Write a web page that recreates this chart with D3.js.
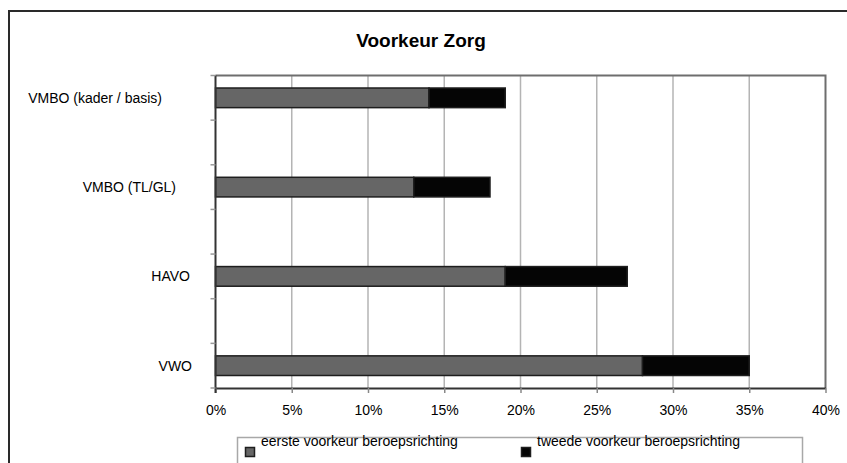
<!DOCTYPE html>
<html>
<head>
<meta charset="utf-8">
<script src="https://cdn.jsdelivr.net/npm/d3@7"></script>
<style>
  body { margin: 0; background: #fff; }
  svg { display: block; font-family: Arial, "Liberation Sans", sans-serif; }
</style>
</head>
<body>
<svg id="chart" width="847" height="463"></svg>
<script>
const width = 847, height = 463;

// data
const categories = ['VMBO (kader / basis)', 'VMBO (TL/GL)', 'HAVO', 'VWO'];
const eerste = [14, 13, 19, 28];
const tweede = [5, 5, 8, 7];
const seriesNames = ['eerste voorkeur beroepsrichting', 'tweede voorkeur beroepsrichting'];
const xTicks = [0, 5, 10, 15, 20, 25, 30, 35, 40];

const colors = ['#666666', '#050505'];
const labelShift = [-30, -16, -2, 0]; // excel puts the labels a bit oddly

const margin = {left: 215.5, right: 825.5, top: 75.5, bottom: 388};

const svg = d3.select('#chart');

// outer chart frame (runs off the picture on the right/bottom)
svg.append('rect')
    .attr('x', 9).attr('y', 11)
    .attr('width', 900).attr('height', 500)
    .attr('fill', 'none')
    .attr('stroke', '#2a2a2a')
    .attr('stroke-width', 2);

svg.append('text')
    .attr('x', 421).attr('y', 47)
    .attr('text-anchor', 'middle')
    .attr('font-size', 19)
    .attr('font-weight', 'bold')
    .text('Voorkeur Zorg');

// empty slots between the categories, like in the sheet
const slots = categories.flatMap((c, i) => i < categories.length - 1 ? [c, '_gap' + i] : [c]);

const x = d3.scaleLinear().domain([0, 40]).range([margin.left, margin.right]);
const y = d3.scaleBand().domain(slots).range([margin.top, margin.bottom]).paddingInner(0).paddingOuter(0);

// gridlines
svg.append('g')
    .selectAll('line')
    .data(xTicks.slice(1, -1))
    .join('line')
    .attr('x1', d => x(d)).attr('x2', d => x(d))
    .attr('y1', margin.top).attr('y2', margin.bottom)
    .attr('stroke', '#b4b4b4')
    .attr('stroke-width', 1.5);

// plot border top / right
svg.append('path')
    .attr('d', `M${margin.left},${margin.top}H${margin.right}V${margin.bottom}`)
    .attr('fill', 'none')
    .attr('stroke', '#6e6e6e')
    .attr('stroke-width', 2);

// bars
const barH = y.bandwidth() * 0.44;
const rows = categories.map((c, i) => ({cat: c, vals: [eerste[i], tweede[i]]}));

const stacked = [];
rows.forEach(r => {
    let acc = 0;
    r.vals.forEach((v, k) => {
        stacked.push({cat: r.cat, k, x0: acc, x1: acc + v});
        acc += v;
    });
});

svg.append('g')
    .selectAll('rect')
    .data(stacked)
    .join('rect')
    .attr('x', d => x(d.x0))
    .attr('width', d => x(d.x1) - x(d.x0))
    .attr('y', d => y(d.cat) + (y.bandwidth() - barH) / 2)
    .attr('height', barH)
    .attr('fill', d => colors[d.k])
    .attr('stroke', '#1e1e1e')
    .attr('stroke-width', 1.5);

// x axis
const xAxis = svg.append('g')
    .attr('transform', `translate(0,${margin.bottom})`)
    .call(d3.axisBottom(x).tickValues(xTicks).tickFormat(d => d + '%').tickSize(5).tickSizeOuter(0));
xAxis.select('.domain').attr('stroke', '#333').attr('stroke-width', 2);
xAxis.selectAll('.tick line').attr('stroke', '#888').attr('stroke-width', 1.5);
xAxis.selectAll('.tick text')
    .attr('font-size', 14)
    .attr('font-family', 'Arial, "Liberation Sans", sans-serif')
    .attr('fill', '#000')
    .attr('dy', null)
    .attr('y', 27);

// y axis: line + ticks at slot boundaries
const bounds = slots.map(s => y(s)).concat([margin.bottom]);
svg.append('line')
    .attr('x1', margin.left).attr('x2', margin.left)
    .attr('y1', margin.top).attr('y2', margin.bottom + 5)
    .attr('stroke', '#333').attr('stroke-width', 2);
svg.append('g')
    .selectAll('line')
    .data(bounds)
    .join('line')
    .attr('x1', margin.left - 5).attr('x2', margin.left)
    .attr('y1', d => d).attr('y2', d => d)
    .attr('stroke', '#999').attr('stroke-width', 1.5);

svg.append('g')
    .selectAll('text')
    .data(categories)
    .join('text')
    .attr('x', (d, i) => 192 + labelShift[i])
    .attr('y', d => y(d) + y.bandwidth() / 2)
    .attr('dy', '0.36em')
    .attr('text-anchor', 'end')
    .attr('font-size', 14)
    .text(d => d);

// legend
svg.append('rect')
    .attr('x', 237.5).attr('y', 437.5)
    .attr('width', 565).attr('height', 60)
    .attr('fill', 'none')
    .attr('stroke', '#a8a8a8')
    .attr('stroke-width', 1.5);

const leg = svg.append('g')
    .selectAll('g')
    .data(seriesNames)
    .join('g')
    .attr('transform', (d, i) => `translate(${i === 0 ? 245 : 521},0)`);

leg.append('rect')
    .attr('x', 0.5).attr('y', 447.5)
    .attr('width', 9).attr('height', 9)
    .attr('fill', (d, i) => colors[i])
    .attr('stroke', '#1e1e1e')
    .attr('stroke-width', 1.5);

leg.append('text')
    .attr('x', 16).attr('y', 446)
    .attr('font-size', 14)
    .text(d => d);
</script>
</body>
</html>
